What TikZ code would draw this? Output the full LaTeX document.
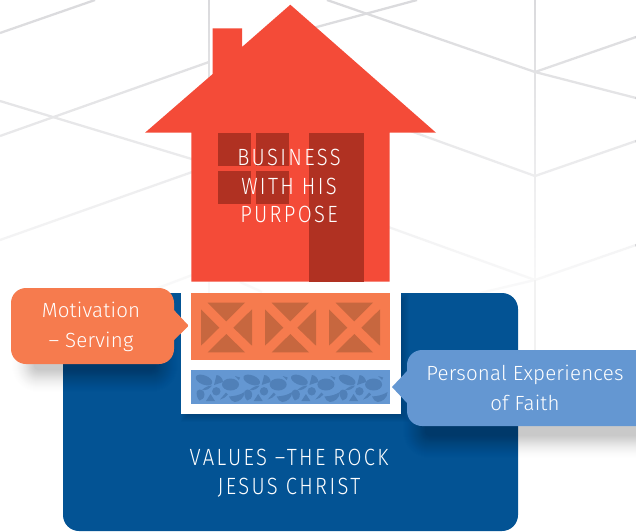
\documentclass[tikz,border=0pt]{standalone}
\usepackage{fontspec}
\usetikzlibrary{fadings}
\newfontfamily\capsfont[LetterSpace=10,FakeStretch=0.86]{Fira Sans Light}
\newfontfamily\callfont[LetterSpace=1]{Fira Sans Light}
\definecolor{houseRed}{HTML}{F44B38}
\definecolor{houseDark}{HTML}{B03122}
\definecolor{crateOrange}{HTML}{F67B4E}
\definecolor{crateDark}{HTML}{C7673F}
\definecolor{stoneBlue}{HTML}{6497D2}
\definecolor{stoneDark}{HTML}{5080B8}
\definecolor{rockNavy}{HTML}{035394}
\definecolor{gridGray}{HTML}{D4D4D7}
\tikzset{
  gridline/.style={draw=gridGray,line width=2.3pt},
  capslabel/.style={text=white,align=center,font=\capsfont\fontsize{23.5}{28.5}\selectfont,inner sep=0pt},
  calllabel/.style={text=white,align=center,font=\callfont\fontsize{20.5}{30}\selectfont,inner sep=0pt},
}
\newcommand{\softshadow}[4]{% x0 y0 x1 y1 of the core
  \foreach \g in {0,1,...,24}{
    \pgfmathsetmacro{\e}{24-\g}
    \pgfmathsetmacro{\rr}{\e+4}
    \pgfmathsetmacro{\oo}{0.001+0.0007*\g}
    \fill[black,opacity=\oo,rounded corners=\rr pt] (#1-\e,#2-\e) rectangle (#3+\e,#4+\e);
  }}
\begin{document}
\begin{tikzpicture}[x=1pt,y=-1pt]
\useasboundingbox (0,0) rectangle (636,531);
% background network
\foreach \a/\b in {{0,33}/{95,0},{0,136}/{209,62},{0,101}/{195,160},{0,240}/{195,171},{150,291}/{195,274},
  {327,0}/{535,72},{313,28}/{417,0},{535,72}/{636,37},{535,72}/{636,98},
  {380,120}/{535,176},{535,176}/{636,141},{380,224}/{535,280},{535,280}/{636,245},{480,293}/{535,280},
  {240,282}/{262,292}}{
  \draw[gridline] (\a) -- (\b);
}
\draw[gridline] (209,0) -- (209,293);
\draw[gridline] (535,0) -- (535,352);
\fill[white,path fading=north] (0,-60) rectangle (636,340);
\fill[white] (0,300) rectangle (636,360);
\draw[gridline,draw=black!5] (535,280) -- (535,352);
% rock
\fill[rockNavy,rounded corners=16pt] (63,293) rectangle (518,531);
% foundation trench
\foreach \g in {0,1,...,7}{\fill[black,opacity=0.02] (181+\g,293+\g) rectangle (401+8-\g,414+8-\g);}
\fill[white] (181,293) rectangle (401,414);
% house
\fill[houseRed] (290.3,4.7) -- (436,132.7) -- (389.7,132.7) -- (389.7,281.7) -- (191.3,281.7)
  -- (191.3,132.7) -- (145,132.7) -- (212.7,74) -- (212.7,28.3) -- (242,28.3) -- (242,47) -- cycle;
\fill[houseDark] (218,132.7) rectangle (251,165.7);
\fill[houseDark] (256,132.7) rectangle (289,165.7);
\fill[houseDark] (218,171) rectangle (251,204);
\fill[houseDark] (256,171) rectangle (289,204);
\fill[houseDark] (309,132.7) rectangle (364,281.7);
% crate
\fill[crateOrange] (191,293) rectangle (390,360);
\foreach \k in {0,1,2}{
  \begin{scope}[xshift=\k*64pt]
  \fill[crateDark] (207.7,302.7) -- (245,302.7) -- (226.3,321.3) -- cycle;
  \fill[crateDark] (201,309.3) -- (201,345.7) -- (219.3,327.7) -- cycle;
  \fill[crateDark] (252,309.3) -- (252,345.7) -- (233.3,327.7) -- cycle;
  \fill[crateDark] (207.7,352.3) -- (245,352.3) -- (226.3,334) -- cycle;
  \end{scope}
}
% stones
\fill[stoneBlue] (191,370) rectangle (390,404);
\foreach \k in {0,1,2,3}{
  \begin{scope}[xshift=\k*47.7pt]
  \fill[stoneDark,rotate around={-22:(204,380)}] (204,380) ellipse (8.8pt and 4.6pt);
  \fill[stoneDark] (214,385) -- (216.5,375) .. controls (220,375) and (223,379) .. (223,382) -- cycle;
  \fill[stoneDark] (230.5,384.5) ellipse (8.5pt and 6pt);
  \fill[stoneDark] (235,376) -- (240,377.5) -- (239,380) -- cycle;
  \fill[stoneDark] (216.3,391.3) circle (4.2pt);
  \fill[stoneDark] (202,390) .. controls (205,387) and (209,385.5) .. (212,385.5) .. controls (210,388.5) and (206,391) .. (202,390) -- cycle;
  \fill[stoneDark] (197,391) .. controls (200,388) and (204,390) .. (204.5,394) .. controls (204.5,398) and (202,400.5) .. (199.5,400.5) .. controls (197,398) and (196,394) .. (197,391) -- cycle;
  \fill[stoneDark] (206,401) -- (210.5,394) -- (215,401) -- cycle;
  \fill[stoneDark] (220,399.5) -- (226,392.5) -- (228,394.5) .. controls (226,397) and (223,399) .. (220,399.5) -- cycle;
  \fill[stoneDark] (229,396.5) .. controls (235,396) and (240,395) .. (244.5,392) .. controls (244.5,398) and (239,402) .. (234.5,402) .. controls (232,402) and (230,399) .. (229,396.5) -- cycle;
  \end{scope}
}
% shadows of callouts
\softshadow{34}{330}{156}{370}
\softshadow{425}{395}{650}{436}
% left callout
\fill[crateOrange,rounded corners=15pt] (11,288) -- (174,288) -- (174,364) -- (11,364) -- cycle;
\fill[crateOrange] (172,308) -- (188,325) [rounded corners=1pt] -- (188.5,326) [sharp corners] -- (172,342) -- cycle;
\node[calllabel] (motive) at (91,327) {Motivation\\– Serving};
% right callout
\fill[stoneBlue,rounded corners=15pt] (407,350) -- (660,350) -- (660,426) -- (407,426) -- cycle;
\fill[stoneBlue] (408,370) -- (392,387) -- (408,404) -- cycle;
\node[calllabel] (faith) at (525,388) {Personal Experiences\\of Faith};
% labels
\node[capslabel] (biz) at (289,186) {BUSINESS\\WITH HIS\\PURPOSE};
\node[capslabel] (rock) at (289,473) {VALUES –THE ROCK\\JESUS CHRIST};
\end{tikzpicture}
\end{document}
